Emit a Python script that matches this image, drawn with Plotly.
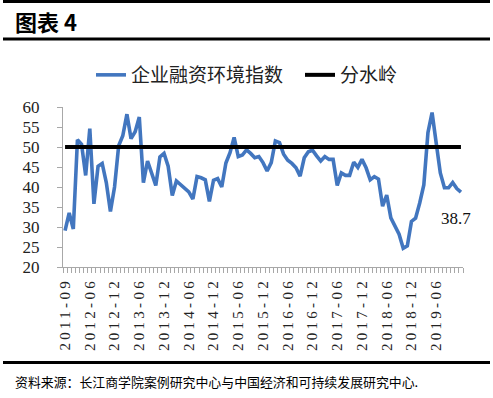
import plotly.graph_objects as go

# ---- data ----
tick_labels = ["2011-09", "2012-06", "2012-12", "2013-06", "2013-12", "2014-06", "2014-12",
               "2015-06", "2015-12", "2016-06", "2016-12", "2017-06", "2017-12", "2018-06",
               "2018-12", "2019-06"]
index_values = [
    29.1, 33.5, 29.5, 51.8, 50.7, 42.9, 54.6, 35.8, 45.2, 45.9,
    41.1, 33.9, 40.0, 50.3, 52.8, 58.2, 52.1, 53.8, 57.5, 41.1,
    46.5, 43.1, 40.4, 47.5, 48.4, 45.2, 37.9, 41.5, 40.6, 39.6,
    38.8, 37.0, 42.6, 42.3, 41.8, 36.4, 41.7, 42.1, 40.0, 46.0,
    48.6, 52.4, 47.6, 48.0, 49.3, 48.4, 47.3, 47.6, 46.1, 44.0,
    46.1, 51.5, 51.1, 48.2, 46.7, 45.9, 44.8, 42.7, 47.3, 48.8,
    49.2, 47.8, 46.5, 47.6, 46.9, 46.9, 40.4, 43.5, 42.9, 42.9,
    46.2, 44.9, 46.9, 44.8, 41.8, 42.6, 42.0, 35.2, 38.0, 32.3,
    30.3, 28.2, 24.7, 25.3, 31.4, 32.2, 36.0, 40.5, 53.6, 58.6,
    51.0, 43.5, 39.8, 39.8, 41.1, 39.6, 38.7,
]
threshold = 50
series_names = ["企业融资环境指数", "分水岭"]

N = len(index_values)
x = list(range(N))
label_every = 6
tickvals = [i * label_every for i in range(len(tick_labels))]

CJK = "Noto Sans CJK SC"
SERIF = "Liberation Serif, Times New Roman, serif"

fig = go.Figure()
fig.add_trace(go.Scatter(x=x, y=index_values, mode="lines", name=series_names[0],
                         line=dict(color="#4276BF", width=3.6), legend="legend"))
fig.add_trace(go.Scatter(x=x, y=[threshold] * N, mode="lines", name=series_names[1],
                         line=dict(color="#000000", width=4), legend="legend2"))

L, R, T, B = 63, 30, 107, 131
W, H = 493, 398
pw, ph = W - L - R, H - T - B

def px(p):
    return (p - L) / pw

def py(p):
    return (H - B - p) / ph

legend_style = dict(orientation="h", xanchor="left", y=py(75), yanchor="middle",
                    font=dict(family=CJK, size=19, color="#222222"),
                    bgcolor="rgba(0,0,0,0)", itemwidth=30)

fig.update_layout(
    width=W, height=H,
    margin=dict(l=L, r=R, t=T, b=B, autoexpand=False),
    paper_bgcolor="white", plot_bgcolor="white",
    showlegend=True,
    legend=dict(x=px(91), **legend_style),
    legend2=dict(x=px(300), **legend_style),
    xaxis=dict(range=[-0.5, N - 0.5], tickmode="array", tickvals=tickvals, ticktext=tick_labels,
               tickangle=-90, tickfont=dict(family=SERIF, size=15, color="#222222"),
               showline=True, linecolor="#A8A8A8", linewidth=1, showgrid=False, zeroline=False,
               ticks="", ticklabelstandoff=4,
               minor=dict(tickmode="linear", tick0=0.5, dtick=1, ticks="outside", ticklen=5,
                          tickcolor="#A8A8A8", tickwidth=1, showgrid=False)),
    yaxis=dict(range=[20, 60], tickmode="linear", tick0=20, dtick=5,
               tickfont=dict(family=SERIF, size=17, color="#222222"),
               showline=True, linecolor="#A8A8A8", linewidth=1, showgrid=False, zeroline=False,
               ticks="outside", ticklen=5, tickcolor="#A8A8A8", ticklabelstandoff=14),
)

# header / footer rules
for yy, w in [(1.5, 3), (39, 3), (362.5, 3)]:
    fig.add_shape(type="line", xref="paper", yref="paper", x0=px(3), x1=px(490),
                  y0=py(yy), y1=py(yy), line=dict(color="black", width=w))

fig.add_annotation(text="图表 4", xref="paper", yref="paper", x=px(13), y=py(21),
                   xanchor="left", yanchor="middle", showarrow=False,
                   font=dict(family=CJK, size=22, color="black", weight="bold"))
fig.add_annotation(text="资料来源：长江商学院案例研究中心与中国经济和可持续发展研究中心.",
                   xref="paper", yref="paper", x=px(13), y=py(381), xanchor="left",
                   yanchor="middle", showarrow=False,
                   font=dict(family=CJK, size=12.9, color="black"))
fig.add_annotation(text=f"{index_values[-1]}", xref="x", yref="y", x=N - 1, y=index_values[-1],
                   xshift=-5, yshift=-26, showarrow=False,
                   font=dict(family=SERIF, size=17, color="#111111"))

post = """
document.body.style.margin = '0';
document.body.style.overflow = 'hidden';
var gd = document.getElementById('{plot_id}');
function sp(){ gd.querySelectorAll('.xtick text').forEach(function(t){ t.setAttribute('letter-spacing','3.3px'); }); }
sp(); gd.on('plotly_afterplot', sp);
"""
fig.write_html("out.html", post_script=post, config={"displayModeBar": False})
